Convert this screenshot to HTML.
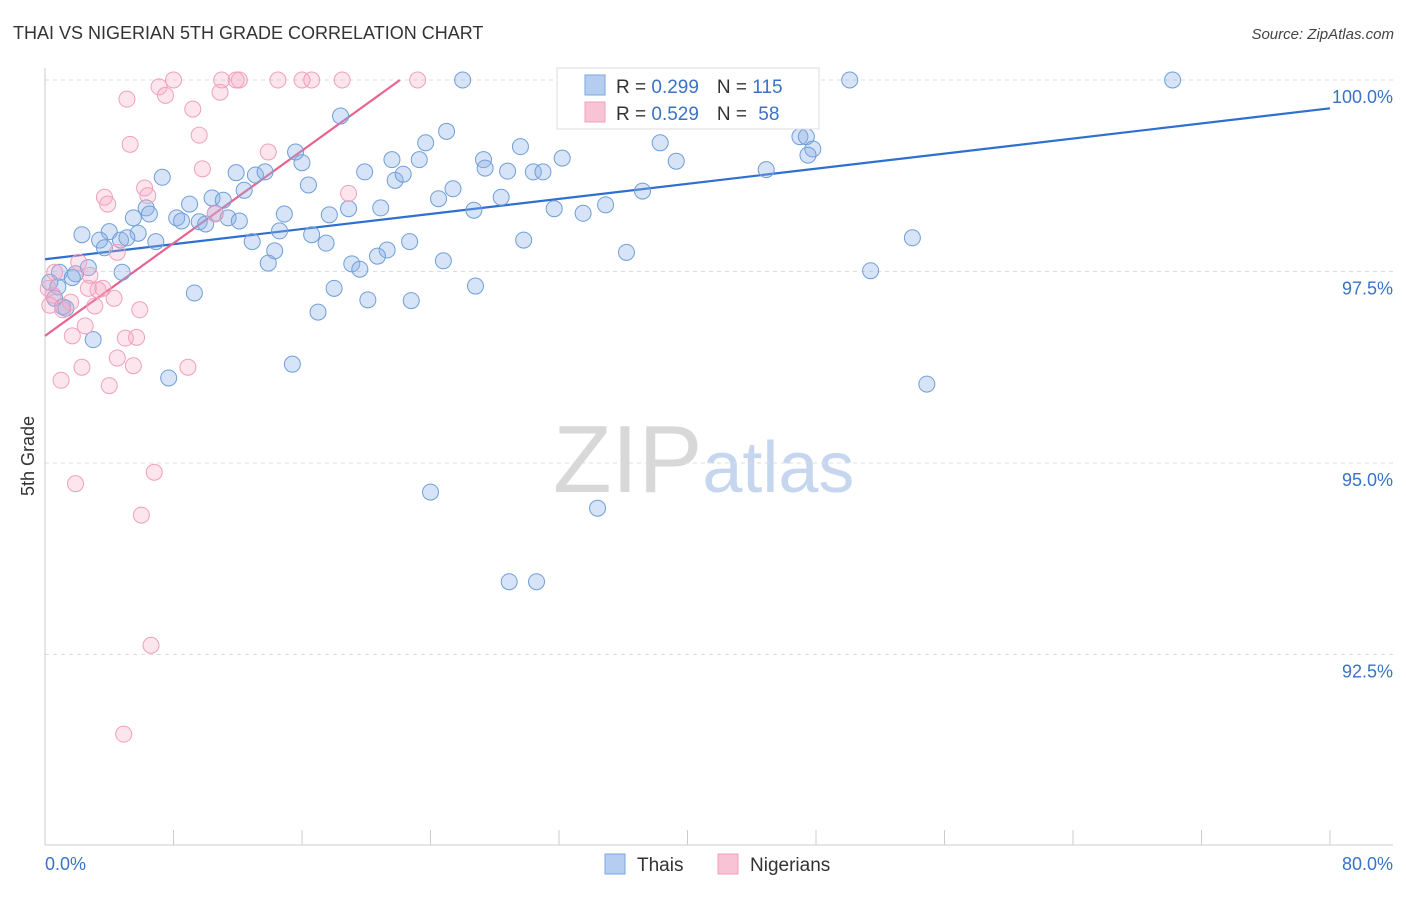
<!DOCTYPE html>
<html><head><meta charset="utf-8"><style>
body{margin:0;background:#fff;font-family:"Liberation Sans",sans-serif}
svg text{font-family:"Liberation Sans",sans-serif}
</style></head><body>
<svg id="chart" width="1406" height="892" xmlns="http://www.w3.org/2000/svg">
<text x="13" y="39" font-size="18" fill="#333">THAI VS NIGERIAN 5TH GRADE CORRELATION CHART</text>
<text x="1394" y="39" font-size="15" fill="#444" font-style="italic" text-anchor="end">Source: ZipAtlas.com</text>
<text x="553" y="492" font-size="96" fill="#d8d8d8" font-family="Liberation Serif">ZIP<tspan fill="#c5d6ee" font-family="Liberation Sans" font-size="72">atlas</tspan></text>
<text transform="translate(34,456) rotate(-90)" font-size="18" fill="#333" text-anchor="middle">5th Grade</text>
<g id="grid"></g><g id="axes"></g><g id="lines"></g><g id="pts"></g>
<g>
<rect x="557" y="68" width="262" height="61" fill="#fff" stroke="#ddd"/>
<rect x="585" y="75" width="20" height="20" fill="#b5cdf0" stroke="#7aa6de"/>
<rect x="585" y="102" width="20" height="20" fill="#f8c3d4" stroke="#f0a0bc"/>
<text x="616" y="93" font-size="19" fill="#333">R = <tspan fill="#3a72c8">0.299</tspan><tspan dx="18">N = </tspan><tspan fill="#3a72c8">115</tspan></text>
<text x="616" y="120" font-size="19" fill="#333">R = <tspan fill="#3a72c8">0.529</tspan><tspan dx="18">N = </tspan><tspan dx="6" fill="#3a72c8">58</tspan></text>
</g>
<g>
<rect x="605" y="854" width="20" height="20" fill="#b5cdf0" stroke="#7aa6de"/>
<text x="637" y="871" font-size="19" fill="#333">Thais</text>
<rect x="718" y="854" width="20" height="20" fill="#f8c3d4" stroke="#f0a0bc"/>
<text x="750" y="871" font-size="19" fill="#333">Nigerians</text>
</g>
</svg>
<script>
const thaiX=[26.0,32.9,40.8,41.6,50.1,70.2,33.2,35.9,18.4,25.0,23.7,29.6,38.3,47.0,47.4,47.8,47.5,15.6,16.0,21.6,23.3,27.3,32.2,39.3,19.9,27.4,28.8,30.4,31.0,44.9,11.9,13.1,13.7,7.3,21.8,22.3,16.4,12.4,25.4,37.2,10.4,11.1,24.5,28.4,6.3,6.5,9.0,14.9,17.7,18.9,20.9,26.7,31.7,33.5,34.9,5.5,8.2,8.5,9.6,10.0,10.6,11.4,12.1,2.3,4.0,5.8,3.4,4.7,5.1,6.9,12.9,14.6,16.6,17.5,22.7,29.8,54.0,3.7,14.3,21.3,20.7,36.2,13.9,19.1,19.6,24.8,51.4,0.9,1.9,4.8,2.7,0.3,0.8,1.7,18.0,26.8,9.3,20.1,22.8,0.6,1.1,1.3,17.0,3.0,15.4,7.7,54.9,24.0,34.4,28.9,30.6];
const thaiY=[100,100,100,100,100,100,99.74,99.54,99.53,99.33,99.18,99.13,99.18,99.26,99.26,99.10,99.02,99.06,98.92,98.96,98.96,98.96,98.98,98.94,98.80,98.85,98.81,98.80,98.80,98.83,98.79,98.76,98.80,98.73,98.69,98.77,98.63,98.56,98.58,98.55,98.46,98.43,98.45,98.47,98.33,98.25,98.38,98.25,98.24,98.32,98.33,98.30,98.32,98.26,98.37,98.20,98.20,98.16,98.15,98.12,98.26,98.20,98.16,97.98,98.02,98.00,97.91,97.91,97.94,97.89,97.89,98.03,97.98,97.87,97.89,97.91,97.94,97.81,97.77,97.78,97.70,97.75,97.61,97.60,97.53,97.64,97.51,97.49,97.47,97.49,97.55,97.36,97.30,97.42,97.28,97.31,97.22,97.13,97.12,97.15,97.04,97.02,96.97,96.61,96.29,96.11,96.03,94.62,94.41,93.45,93.45];
const nigX=[8.0,11.0,11.9,12.1,14.5,16.0,16.6,18.5,23.2,7.1,7.5,10.9,5.1,9.2,9.6,5.3,13.9,9.8,6.2,6.4,3.7,3.9,18.9,10.6,4.5,2.1,2.8,0.6,0.2,0.5,0.3,1.6,3.3,3.6,2.7,4.3,3.1,5.9,1.1,2.5,1.7,5.0,5.7,4.5,5.5,8.9,2.3,1.0,4.0,6.8,1.9,6.0,6.6,4.9];
const nigY=[100,100,100,100,100,100,100,100,100,99.91,99.80,99.84,99.75,99.62,99.28,99.16,99.06,98.84,98.59,98.49,98.47,98.38,98.52,98.25,97.75,97.62,97.45,97.49,97.28,97.19,97.06,97.10,97.26,97.28,97.28,97.15,97.05,97.00,97.00,96.79,96.66,96.63,96.64,96.37,96.27,96.25,96.25,96.08,96.01,94.88,94.73,94.32,92.62,91.46];
const thaiTrend=[97.66,99.63]; // y at x=0 and x=80
const nigTrend=[96.66,100.0]; // y at x=0 and x=22.1
const nigTrendEnd=22.1;
const yTicks=[100,97.5,95,92.5];
const yTickLabels=["100.0%","97.5%","95.0%","92.5%"];
const xTicks=[0,8,16,24,32,40,48,56,64,72,80];
const NS="http://www.w3.org/2000/svg";
const X=v=>45+v*(1285/80);
const Y=v=>80+(100-v)*76.6;
function mk(tag,attrs,parent){const e=document.createElementNS(NS,tag);for(const k in attrs)e.setAttribute(k,attrs[k]);document.getElementById(parent).appendChild(e);return e;}
yTicks.forEach((t,i)=>{
 const g=mk('line',{x1:45,x2:1393,y1:Y(t),y2:Y(t),stroke:'#ddd','stroke-dasharray':'4,4'},'grid');
 
 
 const tx=mk('text',{x:1393,y:Y(t)+23,'font-size':18,fill:'#3a72c8','text-anchor':'end'},'grid');
 tx.textContent=yTickLabels[i];
 
 
});
const ya=mk('line',{x1:45,x2:45,y1:68,y2:845,stroke:'#ccc'},'axes');


const xa=mk('line',{x1:45,x2:1393,y1:845,y2:845,stroke:'#ccc'},'axes');


xTicks.forEach(t=>{
 const l=mk('line',{x1:X(t),x2:X(t),y1:830,y2:845,stroke:'#ccc'},'axes');
 
 
});
const xl0=mk('text',{x:45,y:870,'font-size':18,fill:'#3a72c8'},'axes');xl0.textContent='0.0%';


const xl1=mk('text',{x:1393,y:870,'font-size':18,fill:'#3a72c8','text-anchor':'end'},'axes');xl1.textContent='80.0%';


thaiX.forEach((x,i)=>{
 const c=mk('circle',{cx:X(x),cy:Y(thaiY[i]),r:8,fill:'rgba(140,175,230,0.35)',stroke:'#6f9fd8','stroke-width':1},'pts');
 
 
});
nigX.forEach((x,i)=>{
 const c=mk('circle',{cx:X(x),cy:Y(nigY[i]),r:8,fill:'rgba(248,170,196,0.3)',stroke:'#f0a0bc','stroke-width':1},'pts');
 
 
});
const tl=mk('line',{x1:X(0),y1:Y(thaiTrend[0]),x2:X(80),y2:Y(thaiTrend[1]),stroke:'#2f6fd0','stroke-width':2.2},'lines');


const nl=mk('line',{x1:X(0),y1:Y(nigTrend[0]),x2:X(nigTrendEnd),y2:Y(nigTrend[1]),stroke:'#e8648e','stroke-width':2.2},'lines');


</script>
</body></html>
